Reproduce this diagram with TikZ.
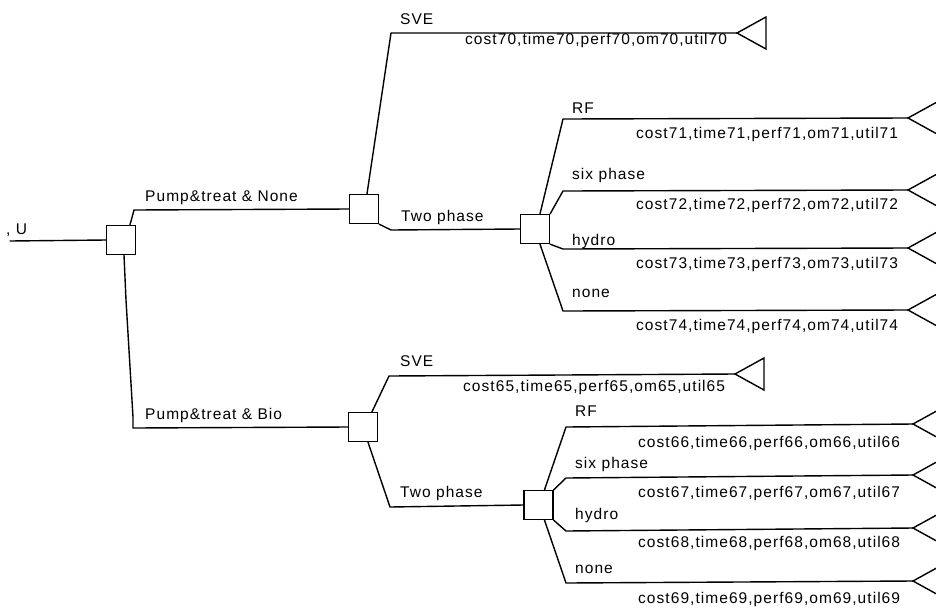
\documentclass[tikz,border=0pt]{standalone}
\usepackage{fontspec}
\setmainfont{Liberation Sans}[LetterSpace=6.8]
\begin{document}
\begin{tikzpicture}[x=1pt,y=-1pt,
  wire/.style={line width=1.4pt, line join=round, line cap=round},
  decbox/.style={draw, line width=1.4pt, rectangle, inner sep=0pt,
    minimum width=29pt, minimum height=29pt},
  lbl/.style={inner sep=0pt, anchor=base west, font=\fontsize{15.5}{18}\selectfont},
  leaf/.style={line width=1.4pt, line join=miter}
]
\useasboundingbox (0,0) rectangle (936,611);
\clip (0,0) rectangle (936,611);

% decision nodes
\node[decbox] (sq1) at (121,240) {};
\node[decbox] (sq2) at (364,209) {};
\node[decbox] (sq3) at (535,229) {};
\node[decbox] (sq4) at (363,427) {};
\node[decbox] (sq5) at (538.5,505) {};

% terminal points
\coordinate (rootL) at (10,241);
\coordinate (t70) at (737,33);
\coordinate (t71) at (908,118);
\coordinate (t72) at (908,190);
\coordinate (t73) at (908,248);
\coordinate (t74) at (908,310);
\coordinate (t65) at (735,374);
\coordinate (t66) at (913,424);
\coordinate (t67) at (913,475);
\coordinate (t68) at (913,528);
\coordinate (t69) at (913,581);

% root
\draw[wire] (rootL) -- (sq1.west);
\node[lbl] (rootlbl) at (6,234) {, U};

% first decision
\draw[wire] ([xshift=9pt]sq1.north) -- (134,210) -- (sq2.west);
\node[lbl] (l1) at (145,201) {Pump\&treat \& None};
\draw[wire] ([xshift=3pt]sq1.south) -- (126,300) -- (133,417) -- (133,428) -- (sq4.west);
\node[lbl] (l2) at (145,419) {Pump\&treat \& Bio};

% upper second decision
\draw[wire] ([xshift=3pt]sq2.north) -- (391,33) -- (t70);
\node[lbl] (l70a) at (400,24) {SVE};
\node[lbl] (l70b) at (465,44) {cost70,time70,perf70,om70,util70};
\draw[wire] (sq2.south east) -- (391,230) -- (sq3.west);
\node[lbl] (l3) at (401,221) {Two phase};

% upper third decision
\draw[wire] ([xshift=5pt]sq3.north) -- (563,119) -- (t71);
\node[lbl] (l71a) at (572,113) {RF};
\node[lbl] (l71b) at (636,138) {cost71,time71,perf71,om71,util71};
\draw[wire] (sq3.north east) -- (563,191) -- (t72);
\node[lbl] (l72a) at (572,179) {six phase};
\node[lbl] (l72b) at (636,209) {cost72,time72,perf72,om72,util72};
\draw[wire] (sq3.south east) -- (563,249) -- (t73);
\node[lbl] (l73a) at (572,245) {hydro};
\node[lbl] (l73b) at (636,268) {cost73,time73,perf73,om73,util73};
\draw[wire] ([xshift=5pt]sq3.south) -- (563,311) -- (t74);
\node[lbl] (l74a) at (572,297) {none};
\node[lbl] (l74b) at (636,330) {cost74,time74,perf74,om74,util74};

% lower second decision
\draw[wire] ([xshift=9pt]sq4.north) -- (389,376) -- (t65);
\node[lbl] (l65a) at (400,366) {SVE};
\node[lbl] (l65b) at (463,391) {cost65,time65,perf65,om65,util65};
\draw[wire] ([xshift=5pt]sq4.south) -- (390,507) -- (sq5.west);
\node[lbl] (l4) at (400,497) {Two phase};

% lower third decision
\draw[wire] ([xshift=6pt]sq5.north) -- (566,427) -- (t66);
\node[lbl] (l66a) at (575,416) {RF};
\node[lbl] (l66b) at (638,447) {cost66,time66,perf66,om66,util66};
\draw[wire] (sq5.north east) -- (566,478) -- (t67);
\node[lbl] (l67a) at (575,468) {six phase};
\node[lbl] (l67b) at (638,497) {cost67,time67,perf67,om67,util67};
\draw[wire] (sq5.south east) -- (566,531) -- (t68);
\node[lbl] (l68a) at (575,519) {hydro};
\node[lbl] (l68b) at (638,547) {cost68,time68,perf68,om68,util68};
\draw[wire] ([xshift=6pt]sq5.south) -- (566,583) -- (t69);
\node[lbl] (l69a) at (575,573) {none};
\node[lbl] (l69b) at (638,603) {cost69,time69,perf69,om69,util69};

% terminal triangles
\foreach \t in {t70,t71,t72,t73,t74,t65,t66,t67,t68,t69}
  \draw[leaf] (\t) -- ++(29,-16) -- ++(0,32) -- cycle;
\end{tikzpicture}
\end{document}
